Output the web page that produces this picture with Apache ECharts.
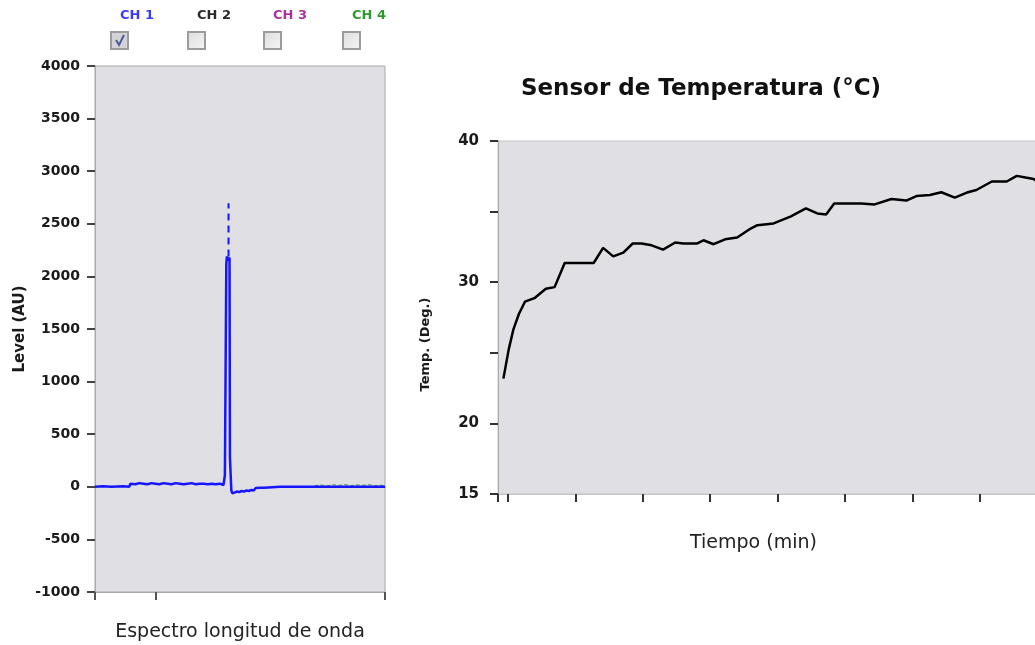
<!DOCTYPE html>
<html>
<head>
<meta charset="utf-8">
<script src="https://cdn.jsdelivr.net/npm/echarts@6/dist/echarts.min.js"></script>
<style>
  html, body { margin: 0; padding: 0; background: #fff; }
  #main { width: 1035px; height: 645px; }
</style>
</head>
<body>
<div id="main"></div>
<script>
// canales del espectrómetro (solo CH 1 activo)
const channelNames = ['CH 1', 'CH 2', 'CH 3', 'CH 4'];
const channelColors = ['#3a3aff', '#2a2a2a', '#a8329f', '#2e9a2e'];
const channelChecked = [true, false, false, false];

// espectro CH 1 (nm, AU)
const specWavelength = [300, 320, 340, 370, 385, 388, 400, 410, 420, 430, 440, 450, 460, 470, 480, 490, 500, 510, 520, 530, 540, 550, 560, 570, 580, 590, 600, 610, 619, 622.5, 626, 627.5, 629, 631, 633, 634, 635, 637.5, 638.5, 641, 646, 652, 658, 664, 670, 676, 682, 688, 694, 698, 699, 710, 720, 724, 760, 800, 840, 880, 920, 960, 1000, 1020];
const specLevel = [0, 5, 0, 5, 0, 30, 25, 35, 30, 25, 35, 30, 25, 35, 30, 25, 35, 30, 25, 30, 35, 25, 30, 30, 25, 30, 25, 30, 17, 110, 2120, 2190, 2150, 2180, 2160, 2180, 280, 280, -35, -62, -55, -45, -50, -40, -45, -35, -40, -30, -35, -35, -12, -10, -10, 0, 0, 0, 0, 0, 0, 0, 0, 0];
// tramo punteado del pico
const peakWavelength = [631.5, 631.5];
const peakLevel = [2190, 2695];
// restos de CH 4 visibles a la derecha
const ch4Wavelength = [845, 860, 875, 890, 905, 920, 935, 950, 965, 980, 995, 1010, 1020];
const ch4Level = [10, 18, 8, 20, 12, 22, 10, 18, 14, 20, 10, 16, 5];
const specXTicks = [300, 450, 1020];

// temperatura (min, °C)
const timeMin = [0.8, 1.6, 2.3, 3.1, 4.0, 5.4, 7.1, 8.4, 9.9, 12.8, 14.2, 15.6, 17.1, 18.6, 20.0, 21.3, 22.8, 24.5, 26.3, 27.5, 29.5, 30.5, 32.0, 33.7, 35.5, 37.5, 38.5, 40.9, 43.4, 45.7, 47.4, 48.7, 49.9, 53.9, 55.9, 58.4, 60.6, 62.1, 64.1, 65.8, 67.8, 69.6, 71.0, 73.3, 75.5, 77.0, 78.3, 79.5, 80.0];
const tempDeg = [23.17, 25.26, 26.68, 27.75, 28.62, 28.87, 29.53, 29.65, 31.36, 31.36, 31.36, 32.43, 31.83, 32.09, 32.74, 32.74, 32.61, 32.31, 32.81, 32.74, 32.74, 32.97, 32.69, 33.04, 33.16, 33.8, 34.04, 34.16, 34.64, 35.23, 34.87, 34.8, 35.58, 35.58, 35.51, 35.89, 35.78, 36.1, 36.18, 36.37, 35.99, 36.35, 36.53, 37.13, 37.13, 37.53, 37.41, 37.31, 37.13];
const tempXTicks = [0, 1.5, 11.5, 21.5, 31.5, 41.5, 51.5, 61.5, 71.5];
const tempYTicks = [15, 20, 25, 30, 35, 40];
const tempYLabels = [15, 20, 30, 40];

const zip = (xs, ys) => xs.map((x, i) => [x, ys[i]]);

const plotBg = '#e0dfe4';
const frame = '#a9a9a9';
const labelFont = 'DejaVu Sans';

const chart = echarts.init(document.getElementById('main'), null, { renderer: 'canvas' });

// controles de canal (texto + casilla)
const channelX = [120, 197, 273, 352];
const controls = [];
channelNames.forEach((name, i) => {
  controls.push({
    type: 'text', left: channelX[i], top: 9,
    style: { text: name, fill: channelColors[i], font: 'bold 13px "DejaVu Sans"', textAlign: 'center' }
  });
  controls.push({
    type: 'rect', shape: { x: channelX[i] - 9, y: 32, width: 17, height: 17 },
    style: {
      stroke: '#9c9c9c', lineWidth: 2,
      fill: channelChecked[i] ? '#d4d4d8' : new echarts.graphic.LinearGradient(0, 0, 1, 1, [
        { offset: 0, color: '#dcdcdc' }, { offset: 1, color: '#f6f6f6' }
      ])
    }
  });
  if (channelChecked[i]) {
    controls.push({
      type: 'polyline', shape: { points: [[channelX[i] - 4, 40], [channelX[i] - 1, 45], [channelX[i] + 4, 35]] },
      style: { stroke: '#4b5a9e', lineWidth: 2, fill: null }
    });
  }
});

const option = {
  backgroundColor: '#ffffff',
  animation: false,
  title: {
    text: 'Sensor de Temperatura (°C)',
    left: 696, top: 73, textAlign: 'center',
    textStyle: { fontFamily: 'DejaVu Sans', fontWeight: 'bold', fontSize: 23, color: '#111' }
  },
  graphic: controls,
  grid: [
    { left: 95, top: 66, width: 290, height: 526, outerBoundsMode: 'none', show: true, backgroundColor: plotBg, borderColor: frame, borderWidth: 1 },
    { left: 498, top: 141, right: -2, height: 353, outerBoundsMode: 'none', show: true, backgroundColor: plotBg, borderColor: '#c4c4c4', borderWidth: 1 }
  ],
  xAxis: [
    {
      gridIndex: 0, type: 'value', min: 300, max: 1020,
      name: 'Espectro longitud de onda', nameLocation: 'middle', nameGap: 31,
      nameTextStyle: { fontFamily: 'DejaVu Sans', fontSize: 19, color: '#222' },
      axisLine: { show: true, onZero: false, lineStyle: { color: frame, width: 1 } },
      axisTick: { show: true, length: 8, customValues: specXTicks, lineStyle: { color: '#555', width: 2 } },
      axisLabel: { show: false },
      splitLine: { show: false }
    },
    {
      gridIndex: 1, type: 'value', min: 0, max: 80,
      name: 'Tiempo (min)', nameLocation: 'middle', nameGap: 40,
      nameTextStyle: { fontFamily: 'DejaVu Sans', fontSize: 19, color: '#222', padding: [0, 28, 0, 0] },
      axisLine: { show: true, onZero: false, lineStyle: { color: '#c4c4c4', width: 1 } },
      axisTick: { show: true, length: 8, customValues: tempXTicks, lineStyle: { color: '#333', width: 2 } },
      axisLabel: { show: false },
      splitLine: { show: false }
    }
  ],
  yAxis: [
    {
      gridIndex: 0, type: 'value', min: -1000, max: 4000, interval: 500,
      name: 'Level (AU)', nameLocation: 'middle', nameGap: 67,
      nameTextStyle: { fontFamily: labelFont, fontWeight: 'bold', fontSize: 15, color: '#1a1a1a' },
      axisLine: { show: true, lineStyle: { color: frame } },
      axisTick: { show: true, length: 8, lineStyle: { color: '#444', width: 2 } },
      axisLabel: {
        margin: 15, fontFamily: labelFont, fontWeight: 'bold', fontSize: 14, color: '#1a1a1a',
        formatter: (v) => String(v)
      },
      splitLine: { show: false }
    },
    {
      gridIndex: 1, type: 'value', min: 15, max: 40,
      name: 'Temp. (Deg.)', nameLocation: 'middle', nameGap: 66,
      nameTextStyle: { fontFamily: labelFont, fontWeight: 'bold', fontSize: 13, color: '#1a1a1a', padding: [0, 54, 0, 0] },
      axisLine: { show: true, lineStyle: { color: frame } },
      axisTick: { show: true, length: 8, customValues: tempYTicks, lineStyle: { color: '#333', width: 2 } },
      axisLabel: {
        margin: 19, customValues: tempYLabels, fontFamily: labelFont, fontWeight: 'bold', fontSize: 15, color: '#1a1a1a',
        formatter: (v) => String(v)
      },
      splitLine: { show: false }
    }
  ],
  series: [
    {
      name: 'CH 4', type: 'line', xAxisIndex: 0, yAxisIndex: 0,
      data: zip(ch4Wavelength, ch4Level), symbol: 'none',
      lineStyle: { color: '#3a9a3a', width: 1, type: 'dashed' }, z: 1
    },
    {
      name: 'CH 1', type: 'line', xAxisIndex: 0, yAxisIndex: 0,
      data: zip(specWavelength, specLevel), symbol: 'none',
      lineStyle: { color: '#1515ff', width: 2.5 }, z: 3
    },
    {
      name: 'CH 1 pico', type: 'line', xAxisIndex: 0, yAxisIndex: 0,
      data: zip(peakWavelength, peakLevel), symbol: 'none',
      lineStyle: { color: '#1515ff', width: 2, type: [7, 5] }, z: 3
    },
    {
      name: 'Temperatura', type: 'line', xAxisIndex: 1, yAxisIndex: 1,
      data: zip(timeMin, tempDeg), symbol: 'none',
      lineStyle: { color: '#000', width: 2.5 }
    }
  ]
};

chart.setOption(option);
</script>
</body>
</html>
